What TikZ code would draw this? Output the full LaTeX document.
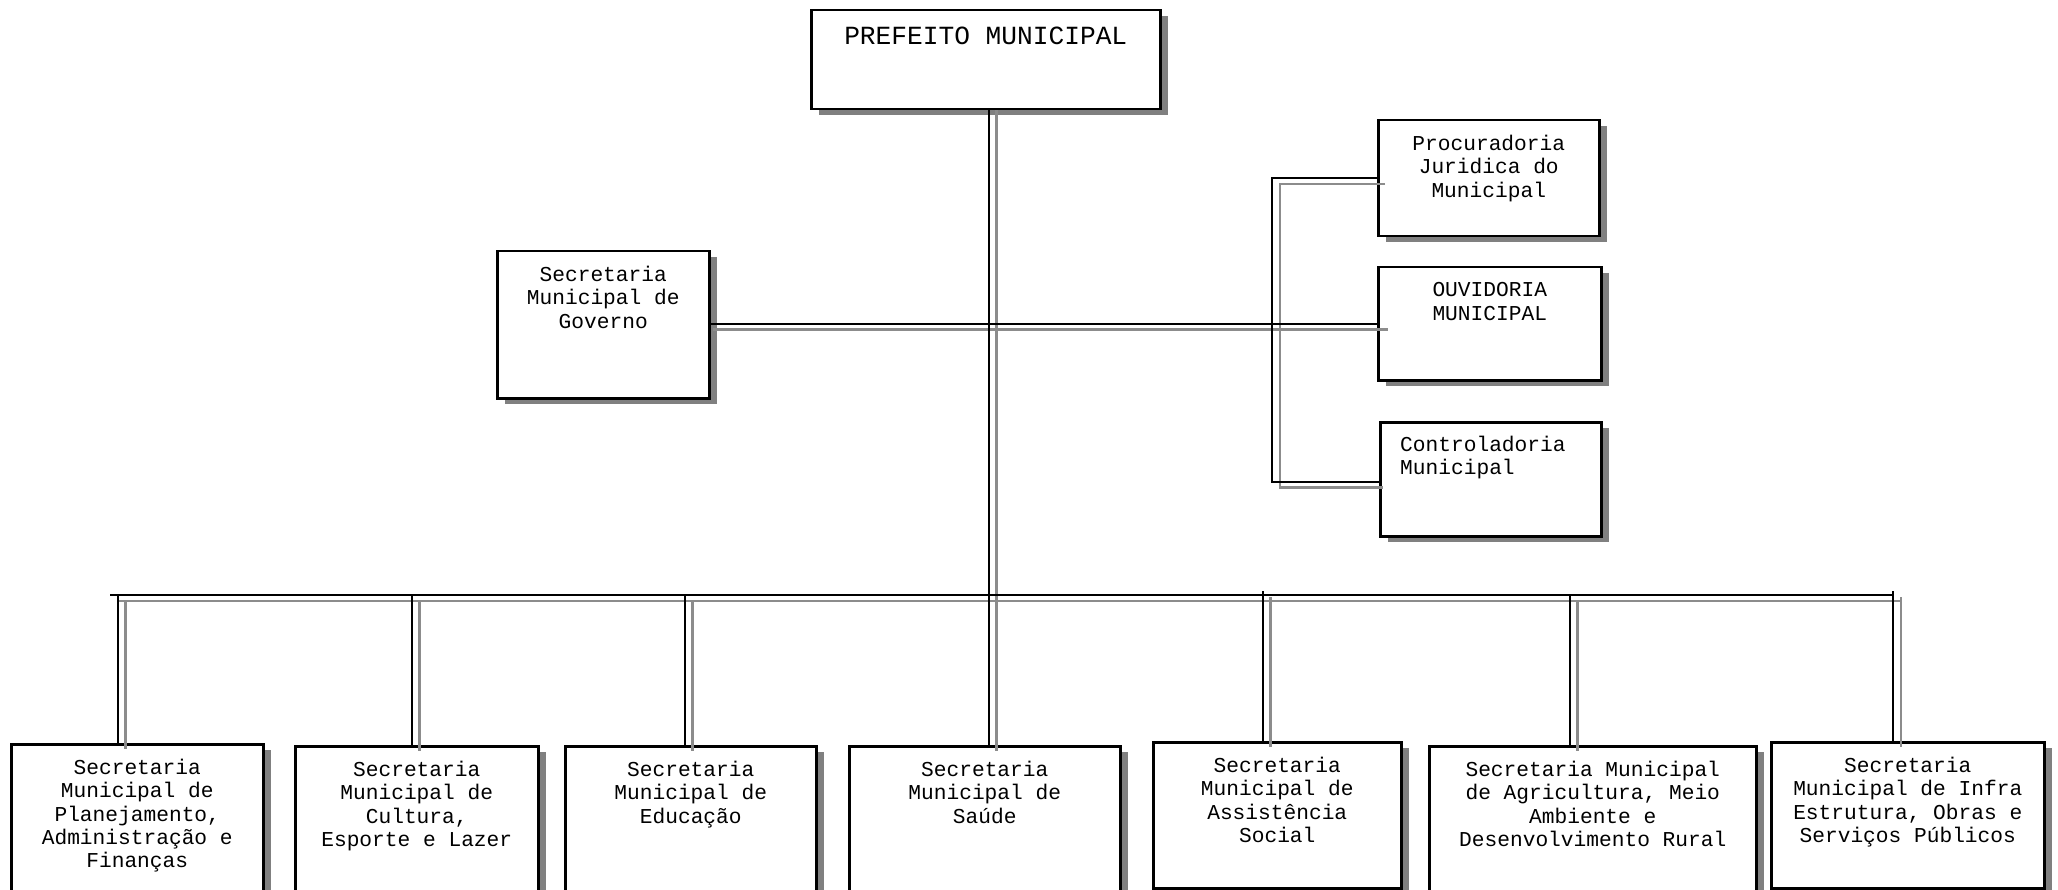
\documentclass[tikz,border=0pt]{standalone}
\usepackage{fontspec}
\setmonofont{Liberation Mono}
\usetikzlibrary{shadows,calc}
\definecolor{shd}{HTML}{808080}
\definecolor{gl}{HTML}{8C8C8C}
\tikzset{
  box/.style={draw=black, line width=2.5pt, fill=white, inner sep=0pt, anchor=north west,
    general shadow={fill=shd, shadow xshift=8pt, shadow yshift=-6pt}},
  txt/.style={font=\ttfamily\fontsize{21.2}{23.33}\selectfont, align=center, inner sep=0pt, anchor=north},
  blk/.style={draw=black, line width=2.5pt},
  gry/.style={draw=gl, line width=2.5pt},
}
\begin{document}
\begin{tikzpicture}[x=1pt,y=-1pt]
\useasboundingbox (0,0) rectangle (2058,890);
\clip (0,0) rectangle (2058,890);
\fill[white] (0,0) rectangle (2058,890);

% boxes
\node[box, minimum width=349pt, minimum height=99pt] (P) at (810,9) {};
\node[box, minimum width=212pt, minimum height=147pt] (G) at (496,250) {};
\node[box, minimum width=221pt, minimum height=116pt] (R1) at (1377,119) {};
\node[box, minimum width=223pt, minimum height=113pt] (R2) at (1377,266) {};
\node[box, minimum width=221pt, minimum height=114pt] (R3) at (1379,421) {};
\node[box, minimum width=252pt, minimum height=200pt] (B1) at (10,743) {};
\node[box, minimum width=243pt, minimum height=200pt] (B2) at (294,745) {};
\node[box, minimum width=251pt, minimum height=200pt] (B3) at (564,745) {};
\node[box, minimum width=271pt, minimum height=200pt] (B4) at (848,745) {};
\node[box, minimum width=248pt, minimum height=146pt] (B5) at (1152,741) {};
\node[box, minimum width=327pt, minimum height=200pt] (B6) at (1428,745) {};
\node[box, minimum width=273pt, minimum height=146pt] (B7) at (1770,741) {};

% texts
\node[txt, font=\ttfamily\fontsize{26.2}{29}\selectfont] (Pt) at ($(P.north)+(0,18)$) {PREFEITO MUNICIPAL};
\node[txt] (Gt) at ($(G.north)+(0,16)$) {Secretaria\\Municipal de\\Governo};
\node[txt] (R1t) at ($(R1.north)+(0,16)$) {Procuradoria\\Juridica do\\Municipal};
\node[txt] (R2t) at ($(R2.north)+(0,16.5)$) {OUVIDORIA\\MUNICIPAL};
\node[txt, align=left, anchor=north west] (R3t) at ($(R3.north west)+(21,15)$) {Controladoria\\Municipal};
\node[txt] (B1t) at ($(B1.north)+(0,16)$) {Secretaria\\Municipal de\\Planejamento,\\Administração e\\Finanças};
\node[txt] (B2t) at ($(B2.north)+(0,16)$) {Secretaria\\Municipal de\\Cultura,\\Esporte e Lazer};
\node[txt] (B3t) at ($(B3.north)+(0,16)$) {Secretaria\\Municipal de\\Educação};
\node[txt] (B4t) at ($(B4.north)+(0,16)$) {Secretaria\\Municipal de\\Saúde};
\node[txt] (B5t) at ($(B5.north)+(0,16)$) {Secretaria\\Municipal de\\Assistência\\Social};
\node[txt] (B6t) at ($(B6.north)+(0,16)$) {Secretaria Municipal\\de Agricultura, Meio\\Ambiente e\\Desenvolvimento Rural};
\node[txt] (B7t) at ($(B7.north)+(0,16)$) {Secretaria\\Municipal de Infra\\Estrutura, Obras e\\Serviços Públicos};

% junction coordinates
\coordinate (xm) at (989,0);
\coordinate (xmg) at (996.5,0);
\coordinate (hy) at (0,324);
\coordinate (hg) at (0,329.5);
\coordinate (bx) at (1272,178);
\coordinate (by) at (1272,482);
\coordinate (bgx) at (1280,184);
\coordinate (bgy) at (1280,487.5);
\coordinate (busL) at (110,595);
\coordinate (gbusL) at (118,601);
\coordinate (k1) at (118,595);
\coordinate (k2) at (412,595);
\coordinate (k3) at (685,595);
\coordinate (k5) at (1263,591);
\coordinate (k6) at (1570,595);
\coordinate (k7) at (1893,591);
\coordinate (g1) at (125.5,601);
\coordinate (g2) at (419.5,601);
\coordinate (g3) at (692.5,601);
\coordinate (g5) at (1270.5,597);
\coordinate (g6) at (1577.5,601);
\coordinate (g7) at (1901,597);

% gray (shadow) connectors
\draw[gry] (P.south -| xmg) -- ($(B4.north -| xmg)+(0,6)$);
\draw[gry] ($(G.east |- hg)+(2,0)$) -- ($(R2.west |- hg)+(11,0)$);
\draw[gry] ($(R1.west |- bgx)+(8,0)$) -- (bgx) -- (bgy) -- ($(R3.west |- bgy)+(4,0)$);
\draw[gry] (gbusL) -- (g7 |- gbusL);
\draw[gry] (g1) -- ($(g1 |- B1.north)+(0,6)$);
\draw[gry] (g2) -- ($(g2 |- B2.north)+(0,6)$);
\draw[gry] (g3) -- ($(g3 |- B3.north)+(0,6)$);
\draw[gry] (g5) -- ($(g5 |- B5.north)+(0,6)$);
\draw[gry] (g6) -- ($(g6 |- B6.north)+(0,6)$);
\draw[gry] (g7) -- ($(g7 |- B7.north)+(0,6)$);

% black connectors
\draw[blk] (P.south -| xm) -- (B4.north -| xm);
\draw[blk] (G.east |- hy) -- (R2.west |- hy);
\draw[blk] (R1.west |- bx) -- (bx) -- (by) -- (R3.west |- by);
\draw[blk] (busL) -- (k7 |- busL);
\draw[blk] (k1) -- (k1 |- B1.north);
\draw[blk] (k2) -- (k2 |- B2.north);
\draw[blk] (k3) -- (k3 |- B3.north);
\draw[blk] (k5) -- (k5 |- B5.north);
\draw[blk] (k6) -- (k6 |- B6.north);
\draw[blk] (k7) -- (k7 |- B7.north);
\end{tikzpicture}
\end{document}
